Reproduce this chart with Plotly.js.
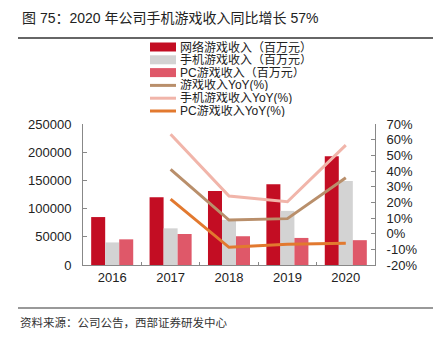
<!DOCTYPE html>
<html><head><meta charset="utf-8">
<script src="https://cdn.plot.ly/plotly-3.0.1.min.js"></script>
<style>html,body{margin:0;padding:0;background:#fff}#chart{width:437px;height:341px}</style>
</head><body><div id="chart"></div>
<script>
const years = ['2016','2017','2018','2019','2020'];
const yoyYears = ['2017','2018','2019','2020'];
const onlineRevenue = [85000, 120000, 131000, 143000, 193000];
const mobileRevenue = [40000, 65000, 80000, 96000, 149000];
const pcRevenue = [45500, 55000, 51000, 48000, 44000];
const onlineYoY = [0.41, 0.087, 0.096, 0.357];
const mobileYoY = [0.635, 0.24, 0.204, 0.565];
const pcYoY = [0.22, -0.087, -0.068, -0.061];
const seriesNames = ['网络游戏收入（百万元）','手机游戏收入（百万元）','PC游戏收入（百万元）','游戏收入YoY(%)','手机游戏收入YoY(%)','PC游戏收入YoY(%)'];
const leftTicks = [0, 50000, 100000, 150000, 200000, 250000];
const rightTicks = [-0.2,-0.1,0,0.1,0.2,0.3,0.4,0.5,0.6,0.7];
const titleText = '图 75：2020 年公司手机游戏收入同比增长 57%';
const sourceText = '资料来源：公司公告，西部证券研发中心';

const colors = ['#c30d23','#d3d3d3','#df5869','#b98f6b','#f1b5aa','#e2792f'];
const FONT = 'Liberation Sans, Arial, Noto Sans CJK SC, sans-serif';
const L=83, R=62, T=124, B=76, W=437, H=341;
const pw = W-L-R, ph = H-T-B;
const px = x => (x-L)/pw;
const py = y => (H-B-y)/ph;

const traces = [];
[onlineRevenue, mobileRevenue, pcRevenue].forEach((v,i)=>{
  traces.push({type:'bar', x:years, y:v, name:seriesNames[i], marker:{color:colors[i]}, showlegend:false, yaxis:'y', hoverinfo:'y'});
});
[onlineYoY, mobileYoY, pcYoY].forEach((v,i)=>{
  traces.push({type:'scatter', mode:'lines', x:yoyYears, y:v, name:seriesNames[i+3], line:{color:colors[i+3], width:3}, showlegend:false, yaxis:'y2'});
});

const shapes = [
  {type:'line', xref:'paper', yref:'paper', x0:px(18), x1:px(433), y0:py(38), y1:py(38), line:{color:'#333', width:1.3}},
  {type:'line', xref:'paper', yref:'paper', x0:px(18), x1:px(433), y0:py(308), y1:py(308), line:{color:'#999', width:2}}
];
const annotations = [
  {xref:'paper', yref:'paper', x:px(20), y:py(18), text:titleText, showarrow:false, xanchor:'left', yanchor:'middle', font:{family:FONT, size:14, color:'#222'}},
  {xref:'paper', yref:'paper', x:px(18), y:py(322), text:sourceText, showarrow:false, xanchor:'left', yanchor:'middle', font:{family:FONT, size:11.5, color:'#333'}}
];
const rowY0 = 47, rowGap = 12.8;
seriesNames.forEach((n,i)=>{
  const yc = rowY0 + i*rowGap;
  if(i<3){
    shapes.push({type:'rect', xref:'paper', yref:'paper', x0:px(150), x1:px(176), y0:py(yc-4.5), y1:py(yc+4.5), fillcolor:colors[i], line:{width:0}});
  } else {
    shapes.push({type:'line', xref:'paper', yref:'paper', x0:px(150), x1:px(176), y0:py(yc), y1:py(yc), line:{color:colors[i], width:3}});
  }
  annotations.push({xref:'paper', yref:'paper', x:px(178), y:py(yc), text:n, showarrow:false, xanchor:'left', yanchor:'middle', height:12, valign:'middle', font:{family:FONT, size:12, color:'#222'}});
});

const layout = {
  width:W, height:H, margin:{l:L, r:R, t:T, b:B, pad:0},
  paper_bgcolor:'#fff', plot_bgcolor:'#fff',
  barmode:'group', bargap:0.28, bargroupgap:0,
  font:{family:FONT, size:13, color:'#222'},
  xaxis:{type:'category', showline:true, linecolor:'#888', linewidth:1, ticks:'inside', ticklen:3, tickcolor:'#888', tickson:'boundaries', showgrid:false, tickfont:{size:13, color:'#222'}, fixedrange:true},
  yaxis:{range:[0,250000], tickvals:leftTicks, ticktext:leftTicks.map(String), showline:true, linecolor:'#888', linewidth:1, ticks:'inside', ticklen:4, tickcolor:'#888', showgrid:false, zeroline:false, tickfont:{size:13, color:'#222'}, ticklabelstandoff:8},
  yaxis2:{overlaying:'y', side:'right', range:[-0.2,0.7], tickvals:rightTicks, ticktext:rightTicks.map(v=>Math.round(v*100)+'%'), showline:true, linecolor:'#888', linewidth:1, ticks:'inside', ticklen:4, tickcolor:'#888', showgrid:false, zeroline:false, tickfont:{size:13, color:'#222'}, ticklabelstandoff:8},
  shapes:shapes, annotations:annotations, showlegend:false
};
Plotly.newPlot('chart', traces, layout, {staticPlot:true, displayModeBar:false});
</script></body></html>
